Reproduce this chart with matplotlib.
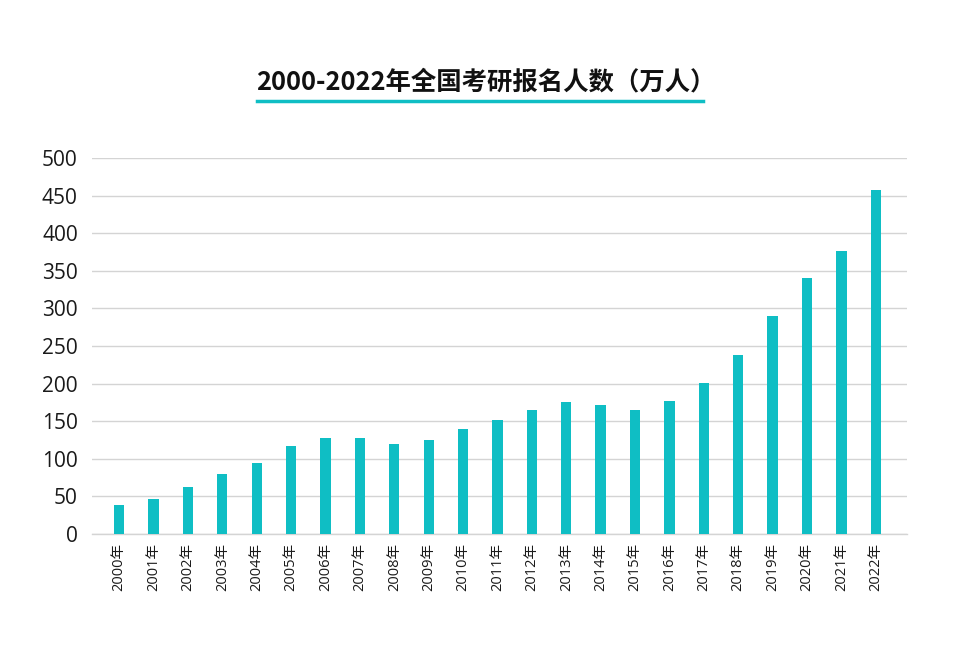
import matplotlib
matplotlib.use("Agg")
import matplotlib.pyplot as plt
from matplotlib.lines import Line2D

plt.rcParams['font.family'] = ['Open Sans', 'Noto Sans CJK SC', 'DejaVu Sans']

years = [f"{y}年" for y in range(2000, 2023)]
values = [39.2, 46, 62.4, 79.7, 94.5, 117.2, 127.1, 128.2, 120, 124.6, 140, 151.1,
          165.6, 176, 172, 164.9, 177, 201, 238, 290, 341, 377, 457]
yticks = [0, 50, 100, 150, 200, 250, 300, 350, 400, 450, 500]
title = "2000-2022年全国考研报名人数（万人）"

color = "#0fbec4"

fig = plt.figure(figsize=(9.75, 6.45), dpi=100)
ax = fig.add_axes([0.094, 0.172, 0.836, 0.583])
x = list(range(len(years)))
ax.bar(x, values, width=0.3, color=color, zorder=3)
ax.set_ylim(0, 500)
ax.set_xlim(-0.8, 22.9)
ax.set_yticks(yticks)
ax.set_yticklabels([str(v) for v in yticks], fontsize=15, color="#1a1a1a")
ax.set_xticks(x)
ax.set_xticklabels(years, rotation=90, fontsize=10.5, color="#1a1a1a",
                   family=['Open Sans', 'Noto Sans CJK SC'])
ax.tick_params(axis='both', length=0, pad=6)
ax.tick_params(axis='y', pad=10)
ax.grid(axis='y', color="#d4d4d4", linewidth=1, zorder=0)
for s in ['top', 'right', 'left']:
    ax.spines[s].set_visible(False)
ax.spines['bottom'].set_color("#d4d4d4")
ax.spines['bottom'].set_linewidth(1)

fig.text(0.4985, 0.873, title, ha='center', va='center', fontsize=18.3, fontweight='bold',
         family=['Noto Sans CJK SC', 'DejaVu Sans'], color="#111111")
fig.add_artist(Line2D([257/975, 703/975], [1-101/645, 1-101/645], color=color,
                      linewidth=2.5, transform=fig.transFigure))

fig.savefig("out.png", dpi=100, facecolor="white")
